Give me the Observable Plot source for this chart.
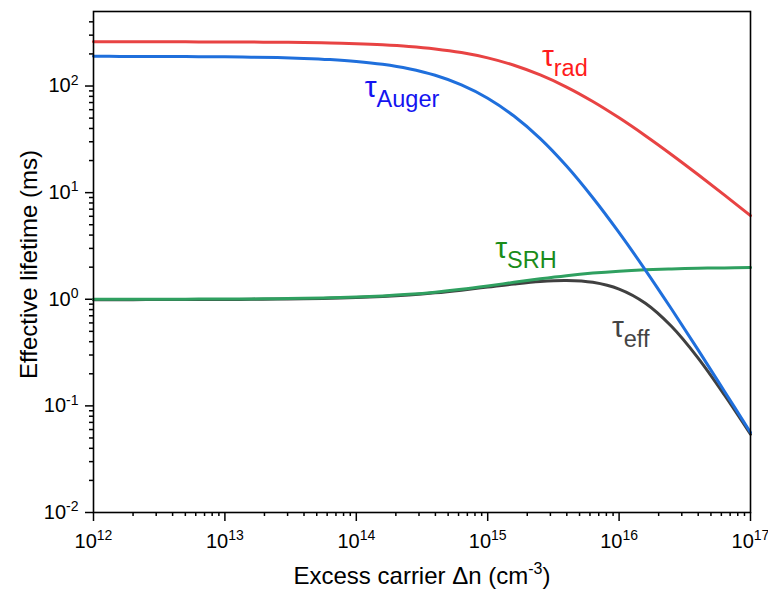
<!DOCTYPE html>
<html>
<head>
<meta charset="utf-8">
<script src="https://cdn.jsdelivr.net/npm/d3@7"></script>
<script src="https://cdn.jsdelivr.net/npm/@observablehq/plot@0.6"></script>
<style>
  body { margin: 0; background: #fff; }
  svg { font-family: "Liberation Sans", Arial, sans-serif; }
</style>
</head>
<body>
<div id="chart"></div>
<script>
// ---- data ----
const deltaN = [1e12, 1.585e12, 2.512e12, 3.981e12, 6.31e12,
                1e13, 1.585e13, 2.512e13, 3.981e13, 6.31e13,
                1e14, 1.585e14, 2.512e14, 3.981e14, 6.31e14,
                1e15, 1.585e15, 2.512e15, 3.981e15, 6.31e15,
                1e16, 1.585e16, 2.512e16, 3.981e16, 6.31e16, 1e17];
const tauRad   = [259.9, 259.8, 259.7, 259.6, 259.3, 258.9, 258.3, 257.3, 255.8, 253.3,
                  249.6, 243.9, 235.4, 223.0, 205.9, 183.5, 156.6, 127.0, 97.8, 71.6,
                  50.3, 34.2, 22.7, 14.8, 9.53, 6.09];
const tauAuger = [189.8, 189.7, 189.5, 189.1, 188.6, 187.8, 186.6, 184.7, 181.6, 177.0,
                  170.0, 159.8, 145.3, 126.1, 102.6, 76.9, 52.3, 32.1, 17.75, 8.95,
                  4.21, 1.88, 0.806, 0.337, 0.138, 0.0562];
const tauSRH   = [1.0005, 1.0008, 1.0013, 1.002, 1.0031, 1.005, 1.0079, 1.0124, 1.0195, 1.0306,
                  1.0476, 1.0734, 1.1116, 1.166, 1.2398, 1.3333, 1.4421, 1.5567, 1.6656, 1.7593,
                  1.8333, 1.888, 1.9263, 1.9522, 1.9693, 1.9804];
const tauEff   = [0.9915, 0.9917, 0.9922, 0.9929, 0.994, 0.9958, 0.9986, 1.003, 1.0098, 1.0205,
                  1.0369, 1.0616, 1.098, 1.1494, 1.2178, 1.3013, 1.3909, 1.4675, 1.4993, 1.4407,
                  1.2455, 0.9168, 0.5544, 0.2819, 0.1272, 0.05416];

const seriesNames  = ["eff", "SRH", "rad", "Auger"];
const seriesColors = ["#404040", "#2fa060", "#e84343", "#1f6fdc"];
const labelColors  = ["#444444", "#1a8c1a", "#ff1c1c", "#1414f0"];
// label anchor positions (Δn, τ) for the curve annotations
const labelSubs = ["eff", "SRH", "rad", "Auger"];
const labelX    = [8.9e15, 1.15e15, 2.61e15, 1.17e14];
const labelY    = [0.435, 2.40, 152, 77.6];

const xMajor = [1e12, 1e13, 1e14, 1e15, 1e16, 1e17];
const yMajor = [1e-2, 1e-1, 1e0, 1e1, 1e2];
const mult = [2, 3, 4, 5, 6, 7, 8, 9];
const xMinor = [12, 13, 14, 15, 16].flatMap(e => mult.map(m => m * 10 ** e));
const yMinor = [-2, -1, 0, 1, 2].flatMap(e => mult.map(m => m * 10 ** e)).filter(v => v < 450);

const xTitle = "Excess carrier \u0394n (cm^-3^)";
const yTitle = "Effective lifetime (ms)";

// ---- build tidy table ----
const seriesValues = {eff: tauEff, SRH: tauSRH, rad: tauRad, Auger: tauAuger};
const rows = seriesNames.flatMap(s => deltaN.map((x, i) => ({series: s, x, y: seriesValues[s][i]})));

const fmt = d => "10^" + Math.round(Math.log10(d));

const plot = Plot.plot({
  width: 768,
  height: 589,
  marginLeft: 93,
  marginRight: 18,
  marginTop: 11,
  marginBottom: 77,
  style: {fontFamily: "'Liberation Sans', Arial, sans-serif", background: "#fff", color: "#000"},
  x: {type: "log", domain: [1e12, 1e17]},
  y: {type: "log", domain: [0.01, 500]},
  color: {domain: seriesNames, range: seriesColors},
  marks: [
    Plot.axisX({ticks: xMinor, tickSize: 4, tickFormat: () => "", strokeWidth: 1.5, label: null}),
    Plot.axisX({ticks: xMajor, tickSize: 9, tickPadding: 12, tickFormat: fmt, fontSize: 20, strokeWidth: 1.5, label: null}),
    Plot.axisY({ticks: yMinor, tickSize: 4, tickFormat: () => "", strokeWidth: 1.5, label: null}),
    Plot.axisY({ticks: yMajor, tickSize: 8, tickPadding: 7, tickFormat: fmt, fontSize: 20, strokeWidth: 1.5, label: null}),
    Plot.line(rows, {x: "x", y: "y", z: "series", stroke: "series", strokeWidth: 3, curve: "catmull-rom"}),
    Plot.frame({stroke: "#000", strokeWidth: 1.6})
  ]
});

document.getElementById("chart").appendChild(plot);

// ---- superscripts in tick labels ----
const svg = d3.select(plot);
svg.selectAll("g[aria-label$='tick label'] text").each(function() {
  const t = d3.select(this);
  const s = t.text();
  if (!s.includes("^")) return;
  const [base, exp] = s.split("^");
  t.text("");
  t.append("tspan").text(base);
  t.append("tspan").attr("font-size", "0.7em").attr("dy", "-0.55em").text(exp);
});

const xs = plot.scale("x"), ys = plot.scale("y");
const plotLeft = 93, plotRight = 768 - 18, plotTop = 11, plotBottom = 589 - 77;

// ---- axis titles ----
const xt = svg.append("text")
  .attr("x", 422)
  .attr("y", 584)
  .attr("text-anchor", "middle")
  .attr("font-size", 24)
  .attr("fill", "#000");
{
  const [a, b, c] = xTitle.split("^");
  xt.append("tspan").text(a);
  xt.append("tspan").attr("font-size", 16).attr("dy", -10).text(b);
  xt.append("tspan").attr("dy", 10).text(c);
}
svg.append("text")
  .attr("transform", `translate(37,${(plotTop + plotBottom) / 2 + 3}) rotate(-90)`)
  .attr("text-anchor", "middle")
  .attr("font-size", 24)
  .attr("fill", "#000")
  .text(yTitle);

// ---- curve labels ----
labelSubs.forEach((sub, i) => {
  const t = svg.append("text")
    .attr("x", xs.apply(labelX[i]))
    .attr("y", ys.apply(labelY[i]))
    .attr("text-anchor", "start")
    .attr("fill", labelColors[i]);
  t.append("tspan").attr("font-size", 30).text("\u03c4");
  t.append("tspan").attr("font-size", 23.5).attr("dy", 10).text(sub);
});
</script>
</body>
</html>
